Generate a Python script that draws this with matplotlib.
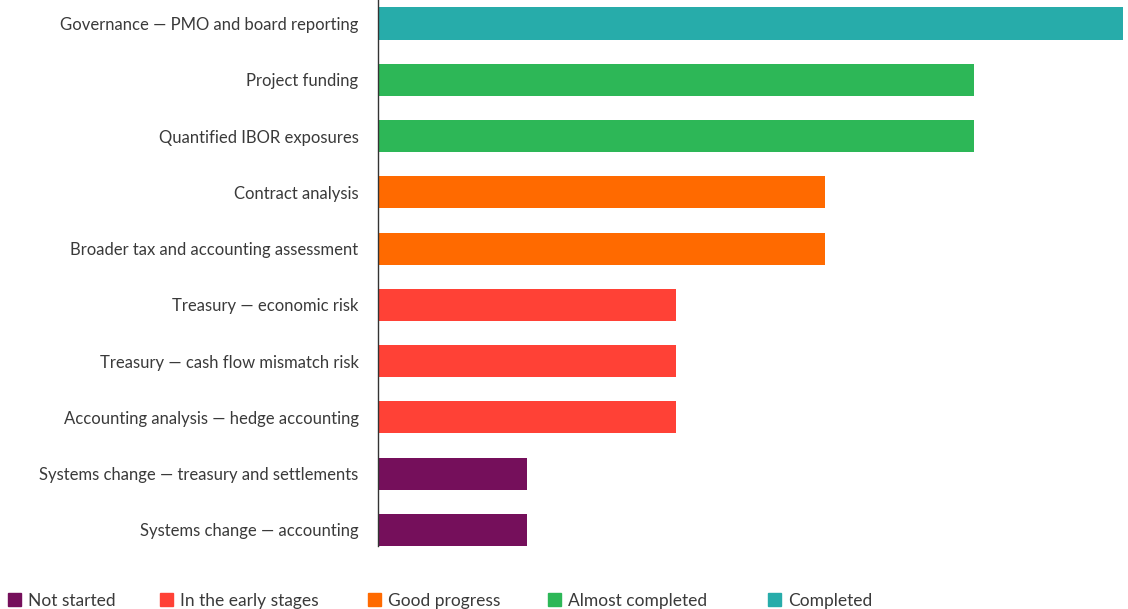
import matplotlib
matplotlib.use("Agg")
import matplotlib.pyplot as plt
from matplotlib.patches import Rectangle

# DATA
tasks = ["Governance \u2014 PMO and board reporting",
         "Project funding",
         "Quantified IBOR exposures",
         "Contract analysis",
         "Broader tax and accounting assessment",
         "Treasury \u2014 economic risk",
         "Treasury \u2014 cash flow mismatch risk",
         "Accounting analysis \u2014 hedge accounting",
         "Systems change \u2014 treasury and settlements",
         "Systems change \u2014 accounting"]
progress = [5, 4, 4, 3, 3, 2, 2, 2, 1, 1]  # 1 = not started ... 5 = completed
stages = ["Not started", "In the early stages", "Good progress",
          "Almost completed", "Completed"]
stage_colors = ["#750F5B", "#FF4136", "#FF6A00", "#2DB757", "#27ACAA"]

plt.rcParams['font.family'] = ['Lato', 'DejaVu Sans']
text_col = "#3a3a3a"

fig = plt.figure(figsize=(11.28, 6.09), dpi=100)
ax = fig.add_axes([378/1128, 63/609, 745/1128, 546/609])

ypos = list(range(len(tasks)))
cols = [stage_colors[p-1] for p in progress]
ax.barh(ypos, progress, height=0.57, color=cols)

ax.set_xlim(0, 5)
ax.set_ylim(9.285, -0.417)
ax.set_yticks(ypos)
ax.set_yticklabels(tasks, fontsize=12, color=text_col)
ax.tick_params(axis='y', length=0, pad=14)
ax.set_xticks([])
for s in ['top', 'right', 'bottom']:
    ax.spines[s].set_visible(False)
ax.spines['left'].set_color("#333333")
ax.spines['left'].set_linewidth(1)

# legend along the bottom
leg_x = [8, 160, 368, 548, 768]
for name, c, x in zip(stages, stage_colors, leg_x):
    fig.patches.append(Rectangle((x/1128, 3/609), 13/1128, 13/609,
                                 transform=fig.transFigure, color=c))
    fig.text((x+20)/1128, 8/609, name, fontsize=12.5, color=text_col,
             va='center', ha='left')

fig.savefig("out.png", dpi=100)
